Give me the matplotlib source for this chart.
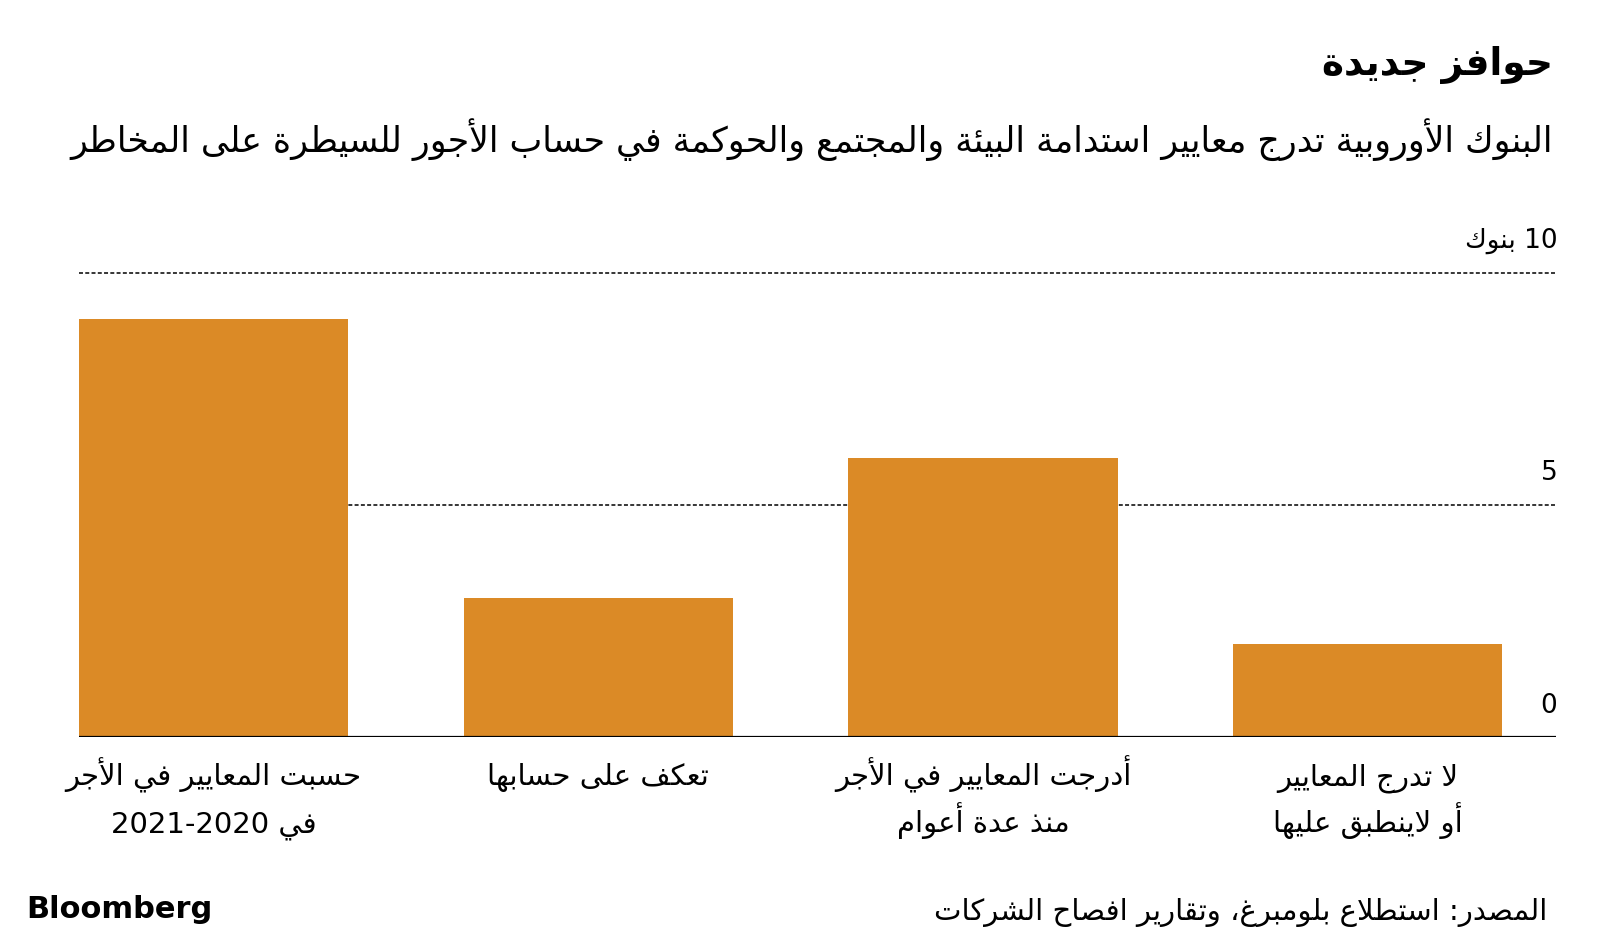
import re
import matplotlib
matplotlib.use("Agg")
import matplotlib.pyplot as plt
import matplotlib.transforms as mtransforms

# --- data ---
categories = [
    "حسبت المعايير في الأجر\nفي 2020-2021",
    "تعكف على حسابها",
    "أدرجت المعايير في الأجر\nمنذ عدة أعوام",
    "لا تدرج المعايير\nأو لاينطبق عليها",
]
values = [9, 3, 6, 2]
yticks = [0, 5, 10]
ytick_labels = ["0", "5", "10 بنوك"]

title = "حوافز جديدة"
subtitle = "البنوك الأوروبية تدرج معايير استدامة البيئة والمجتمع والحوكمة في حساب الأجور للسيطرة على المخاطر"
source = "المصدر: استطلاع بلومبرغ، وتقارير افصاح الشركات"

BAR = "#DB8A26"

# --- minimal arabic shaping (matplotlib has no shaping / bidi) ---
FOUR = {'ئ': 0xFE89, 'ب': 0xFE8F, 'ت': 0xFE95, 'ث': 0xFE99, 'ج': 0xFE9D,
        'ح': 0xFEA1, 'خ': 0xFEA5, 'س': 0xFEB1, 'ش': 0xFEB5, 'ص': 0xFEB9,
        'ض': 0xFEBD, 'ط': 0xFEC1, 'ظ': 0xFEC5, 'ع': 0xFEC9, 'غ': 0xFECD,
        'ف': 0xFED1, 'ق': 0xFED5, 'ك': 0xFED9, 'ل': 0xFEDD, 'م': 0xFEE1,
        'ن': 0xFEE5, 'ه': 0xFEE9, 'ي': 0xFEF1}
TWO = {'آ': 0xFE81, 'أ': 0xFE83, 'ؤ': 0xFE85, 'إ': 0xFE87, 'ا': 0xFE8D,
       'ة': 0xFE93, 'د': 0xFEA9, 'ذ': 0xFEAB, 'ر': 0xFEAD, 'ز': 0xFEAF,
       'و': 0xFEED, 'ى': 0xFEEF}
LAMALEF = {'آ': 0xFEF5, 'أ': 0xFEF7, 'إ': 0xFEF9, 'ا': 0xFEFB}


def shape(s):
    toks = []
    i = 0
    while i < len(s):
        if s[i] == 'ل' and i + 1 < len(s) and s[i + 1] in LAMALEF:
            toks.append(('LA', s[i + 1]))
            i += 2
        else:
            toks.append(s[i])
            i += 1

    def kind(t):
        if isinstance(t, tuple):
            return 'R'
        if t in FOUR:
            return 'D'
        if t in TWO:
            return 'R'
        return None

    out = []
    for i, t in enumerate(toks):
        k = kind(t)
        if k is None:
            out.append(t)
            continue
        jp = i > 0 and kind(toks[i - 1]) == 'D'
        jn = k == 'D' and i + 1 < len(toks) and kind(toks[i + 1]) is not None
        if isinstance(t, tuple):
            out.append(chr(LAMALEF[t[1]] + jp))
        elif k == 'R':
            out.append(chr(TWO[t] + jp))
        else:
            off = 3 if (jp and jn) else 2 if jn else 1 if jp else 0
            out.append(chr(FOUR[t] + off))
    return ''.join(out)


def ar(s):
    runs = re.findall(r'\d+|\D', shape(s))
    return ''.join(reversed(runs))


plt.rcParams['font.family'] = ['DejaVu Sans']

fig = plt.figure(figsize=(16, 9.45), dpi=100)
ax = fig.add_axes([79 / 1600, 0.219, (1556 - 79) / 1600, 0.4915])

x = list(range(len(values)))
ax.bar(x, values, width=0.70, color=BAR, zorder=2)

for v in yticks[1:]:
    ax.axhline(v, color="black", lw=1.1, ls=(0, (2.6, 1.5)), zorder=0, clip_on=False)
ax.axhline(0, color="black", lw=1.6, zorder=3)

ax.set_xlim(-0.35, 3.49)
ax.set_ylim(0, 10)
for s in ax.spines.values():
    s.set_visible(False)
ax.set_yticks([])
ax.set_xticks([])

# category labels, one text per line on fixed baselines
xtrans = mtransforms.blended_transform_factory(ax.transData, fig.transFigure)
baselines = [785, 832]
for xi, cat in zip(x, categories):
    for line, yb in zip(cat.split("\n"), baselines):
        fig.text(xi, 1 - yb / 945, ar(line), transform=xtrans, ha="center",
                 va="baseline", fontsize=21)

trans = mtransforms.blended_transform_factory(ax.transAxes, ax.transData)
for v, lab in zip(yticks, ytick_labels):
    ax.annotate(ar(lab), (1.001, v), xycoords=trans, xytext=(0, 14),
                textcoords="offset points", ha="right", va="bottom",
                fontsize=19, annotation_clip=False)

fig.text(1553 / 1600, 1 - 65 / 945, ar(title), ha="right", va="center",
         fontsize=27, fontweight="bold")
fig.text(1553 / 1600, 1 - 140 / 945, ar(subtitle), ha="right", va="center",
         fontsize=25)
fig.text(1547 / 1600, 1 - 913 / 945, ar(source), ha="right", va="center",
         fontsize=21)
fig.text(26 / 1600, 1 - 910 / 945, "Bloomberg", ha="left", va="center",
         fontsize=22, fontweight="bold")

fig.savefig("out.png", dpi=100)
